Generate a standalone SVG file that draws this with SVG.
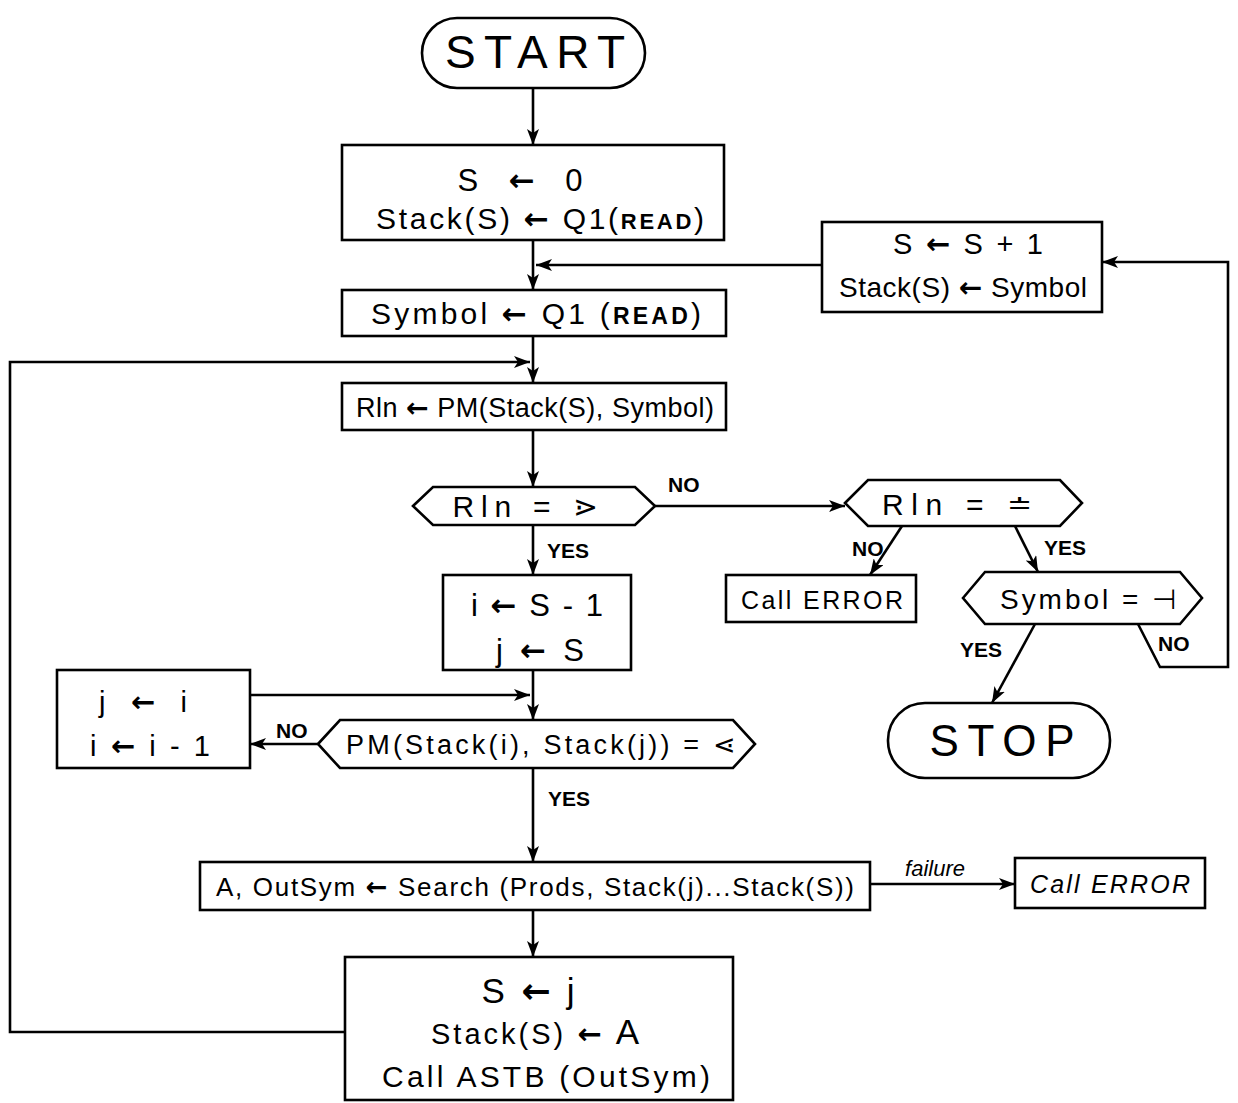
<svg xmlns="http://www.w3.org/2000/svg" width="1238" height="1103" viewBox="0 0 1238 1103">
<defs>
<marker id="ah" viewBox="0 0 16 12" refX="16" refY="6" markerWidth="16" markerHeight="12" markerUnits="userSpaceOnUse" orient="auto">
<path d="M0,0 L16,6 L0,12 L4,6 Z" fill="#000"/>
</marker>
<style>
.s{fill:#fff;stroke:#000;stroke-width:2.6}
.c{fill:none;stroke:#000;stroke-width:2.6}
.t{font-family:"Liberation Sans",Arial,sans-serif;fill:#000;text-anchor:middle}
.a{font-family:"DejaVu Sans",sans-serif;font-weight:bold}
.l{font-family:"Liberation Sans",Arial,sans-serif;font-weight:bold;fill:#000;font-size:21px}
</style>
</defs>
<rect width="1238" height="1103" fill="#fff"/>
<g id="connectors">
<path class="c" d="M533,88 V145" marker-end="url(#ah)"/>
<path class="c" d="M533,240 V290" marker-end="url(#ah)"/>
<path class="c" d="M822,265 H536" marker-end="url(#ah)"/>
<path class="c" d="M533,336 V383" marker-end="url(#ah)"/>
<path class="c" d="M345,1032 H10 V362 H530" marker-end="url(#ah)"/>
<path class="c" d="M533,430 V487" marker-end="url(#ah)"/>
<path class="c" d="M655,506 H845" marker-end="url(#ah)"/>
<path class="c" d="M533,525 V575" marker-end="url(#ah)"/>
<path class="c" d="M902,526 L870,575" marker-end="url(#ah)"/>
<path class="c" d="M1015,526 L1038,572" marker-end="url(#ah)"/>
<path class="c" d="M1035,624 L992,703" marker-end="url(#ah)"/>
<path class="c" d="M1138,624 L1160,667 H1228 V262 H1102" marker-end="url(#ah)"/>
<path class="c" d="M533,670 V720" marker-end="url(#ah)"/>
<path class="c" d="M250,695 H530" marker-end="url(#ah)"/>
<path class="c" d="M318,744 H250" marker-end="url(#ah)"/>
<path class="c" d="M533,768 V862" marker-end="url(#ah)"/>
<path class="c" d="M870,884 H1015" marker-end="url(#ah)"/>
<path class="c" d="M533,910 V957" marker-end="url(#ah)"/>
<text class="l" x="668" y="492">NO</text>
<text class="l" x="547" y="558">YES</text>
<text class="l" x="852" y="556">NO</text>
<text class="l" x="1044" y="555">YES</text>
<text class="l" x="960" y="657">YES</text>
<text class="l" x="1158" y="651">NO</text>
<text class="l" x="276" y="738">NO</text>
<text class="l" x="548" y="806">YES</text>
<text class="t" x="935" y="876" style="font-size:22px;font-style:italic">failure</text>
</g>
<g id="start">
<rect class="s" x="422" y="18" width="223" height="70" rx="35"/>
<text class="t" x="535" y="68" style="font-size:46px" textLength="180" lengthAdjust="spacing">START</text>
</g>
<g id="init">
<rect class="s" x="342" y="145" width="382" height="95"/>
<text class="t" x="520" y="191" style="font-size:31px" textLength="125" lengthAdjust="spacing">S <tspan class="a">←</tspan> 0</text>
<text class="t" x="540" y="229" style="font-size:30px" textLength="328" lengthAdjust="spacing">Stack(S) <tspan class="a">←</tspan> Q1(<tspan style="font-size:22px;font-weight:bold">READ</tspan>)</text>
</g>
<g id="push">
<rect class="s" x="822" y="222" width="280" height="90"/>
<text class="t" x="968" y="254" style="font-size:29px" textLength="150" lengthAdjust="spacing">S <tspan class="a">←</tspan> S + 1</text>
<text class="t" x="963" y="297" style="font-size:28px" textLength="248" lengthAdjust="spacing">Stack(S) <tspan class="a">←</tspan> Symbol</text>
</g>
<g id="read">
<rect class="s" x="342" y="290" width="384" height="46"/>
<text class="t" x="536" y="324" style="font-size:30px" textLength="330" lengthAdjust="spacing">Symbol <tspan class="a">←</tspan> Q1 (<tspan style="font-size:23px;font-weight:bold">READ</tspan>)</text>
</g>
<g id="rln">
<rect class="s" x="342" y="383" width="384" height="47"/>
<text class="t" x="535" y="417" style="font-size:27px" textLength="358" lengthAdjust="spacing">Rln <tspan class="a">←</tspan> PM(Stack(S), Symbol)</text>
</g>
<g id="dec1">
<polygon class="s" points="413,506 433,487 635,487 655,506 635,525 433,525"/>
<text class="t" x="525" y="517" style="font-size:30px" textLength="145" lengthAdjust="spacing">Rln = ⋗</text>
</g>
<g id="dec2">
<polygon class="s" points="845,503 868,480 1060,480 1082,503 1060,526 868,526"/>
<text class="t" x="957" y="515" style="font-size:30px" textLength="150" lengthAdjust="spacing">Rln = ≐</text>
</g>
<g id="err1">
<rect class="s" x="726" y="575" width="190" height="47"/>
<text class="t" x="822" y="609" style="font-size:25px" textLength="162" lengthAdjust="spacing">Call ERROR</text>
</g>
<g id="dec3">
<polygon class="s" points="963,598 985,572 1180,572 1202,598 1180,624 985,624"/>
<text class="t" x="1088" y="609" style="font-size:28px" textLength="176" lengthAdjust="spacing">Symbol = ⊣</text>
</g>
<g id="stop">
<rect class="s" x="888" y="703" width="222" height="75" rx="37"/>
<text class="t" x="1002" y="756" style="font-size:44px" textLength="145" lengthAdjust="spacing">STOP</text>
</g>
<g id="ij">
<rect class="s" x="443" y="575" width="188" height="95"/>
<text class="t" x="537" y="616" style="font-size:31px" textLength="132" lengthAdjust="spacing">i <tspan class="a">←</tspan> S - 1</text>
<text class="t" x="540" y="661" style="font-size:31px" textLength="88" lengthAdjust="spacing">j <tspan class="a">←</tspan> S</text>
</g>
<g id="shift">
<rect class="s" x="57" y="670" width="193" height="98"/>
<text class="t" x="143" y="712" style="font-size:29px" textLength="88" lengthAdjust="spacing">j <tspan class="a">←</tspan> i</text>
<text class="t" x="150" y="756" style="font-size:29px" textLength="120" lengthAdjust="spacing">i <tspan class="a">←</tspan> i - 1</text>
</g>
<g id="dec4">
<polygon class="s" points="318,744 340,720 733,720 755,744 733,768 340,768"/>
<text class="t" x="541" y="754" style="font-size:27px" textLength="390" lengthAdjust="spacing">PM(Stack(i), Stack(j)) = ⋖</text>
</g>
<g id="search">
<rect class="s" x="200" y="862" width="670" height="48"/>
<text class="t" x="535" y="896" style="font-size:26px" textLength="638" lengthAdjust="spacing">A, OutSym <tspan class="a">←</tspan> Search (Prods, Stack(j)...Stack(S))</text>
</g>
<g id="err2">
<rect class="s" x="1015" y="858" width="190" height="50"/>
<text class="t" x="1110" y="893" style="font-size:25px;font-style:italic" textLength="160" lengthAdjust="spacing">Call ERROR</text>
</g>
<g id="reduce">
<rect class="s" x="345" y="957" width="388" height="143"/>
<text class="t" x="528" y="1003" style="font-size:35px" textLength="93" lengthAdjust="spacing">S <tspan class="a">←</tspan> j</text>
<text class="t" x="535" y="1044" style="font-size:29px" textLength="208" lengthAdjust="spacing">Stack(S) <tspan class="a">←</tspan> <tspan style="font-size:35px">A</tspan></text>
<text class="t" x="546" y="1087" style="font-size:30px" textLength="328" lengthAdjust="spacing">Call ASTB (OutSym)</text>
</g>
</svg>
